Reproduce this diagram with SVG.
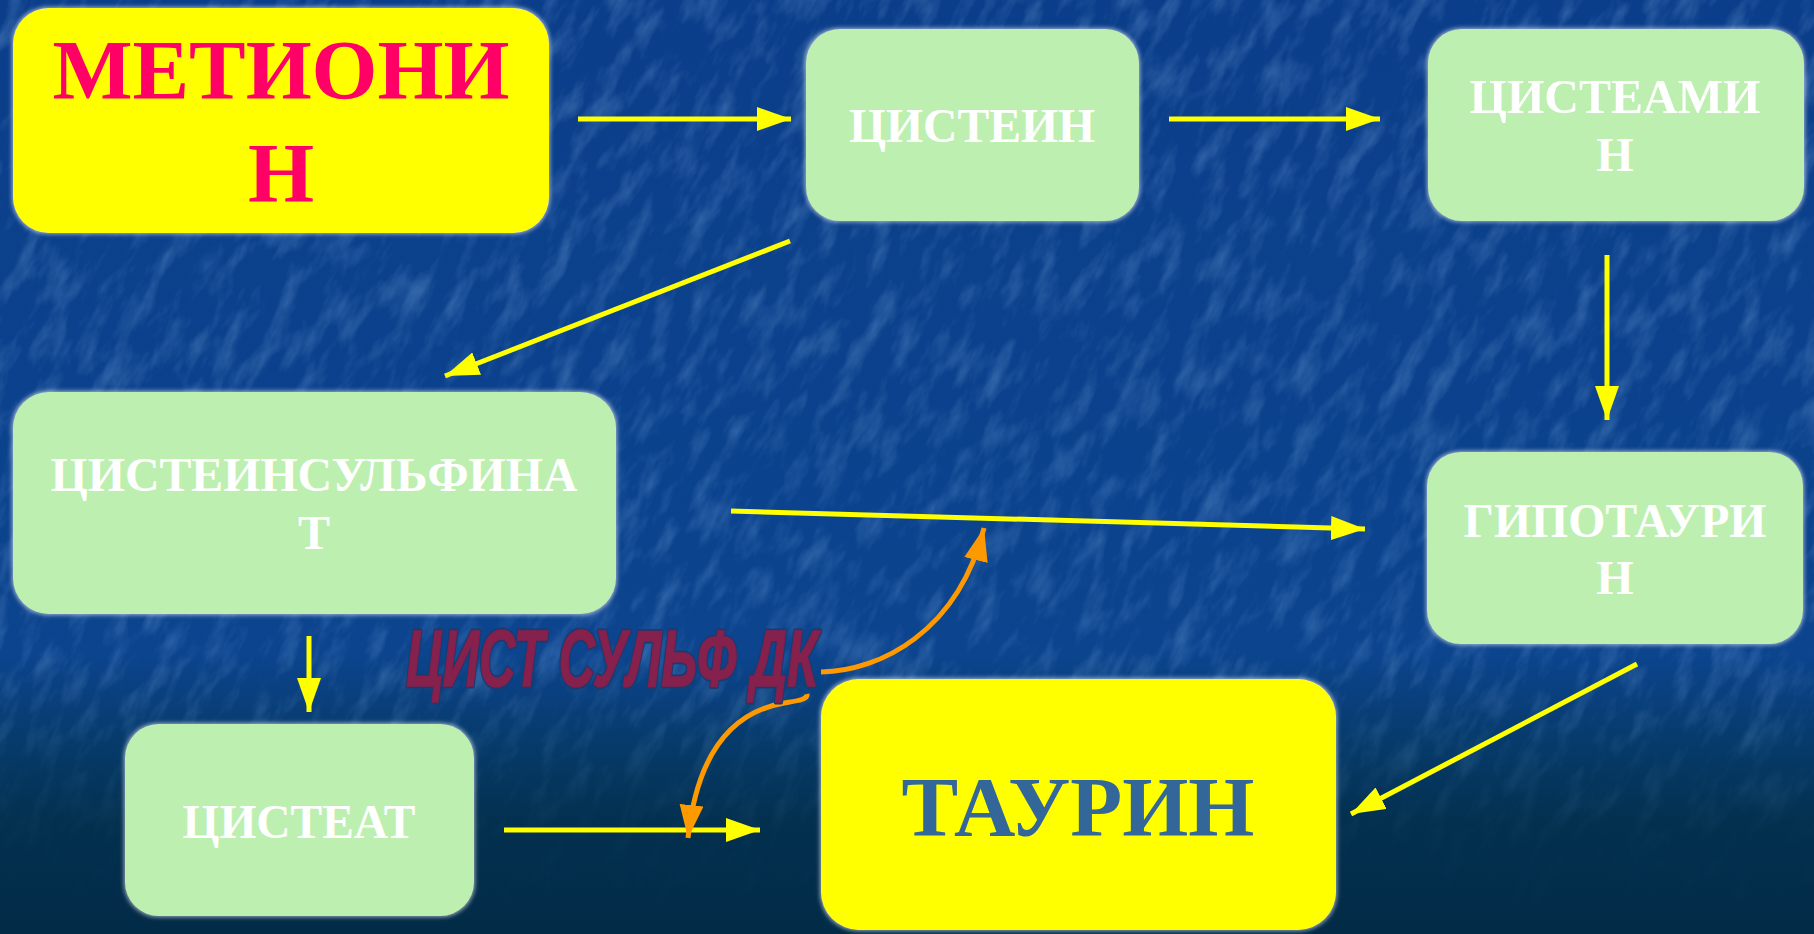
<svg xmlns="http://www.w3.org/2000/svg" width="1814" height="934" viewBox="0 0 1814 934">
  <defs>
    <linearGradient id="bg" x1="0" y1="0" x2="0" y2="1">
      <stop offset="0" stop-color="#0b3e8a"/>
      <stop offset="0.7" stop-color="#0c448e"/>
      <stop offset="0.8" stop-color="#063a69"/>
      <stop offset="0.88" stop-color="#03304f"/>
      <stop offset="1" stop-color="#022b47"/>
    </linearGradient>
    <linearGradient id="fade" x1="0" y1="0" x2="0" y2="1">
      <stop offset="0" stop-color="#fff" stop-opacity="1"/>
      <stop offset="0.72" stop-color="#fff" stop-opacity="0.9"/>
      <stop offset="0.9" stop-color="#fff" stop-opacity="0.1"/>
      <stop offset="1" stop-color="#fff" stop-opacity="0"/>
    </linearGradient>
    <mask id="texmask">
      <rect x="0" y="0" width="1814" height="934" fill="url(#fade)"/>
    </mask>
    <filter id="tex" x="0" y="0" width="100%" height="100%">
      <feTurbulence type="fractalNoise" baseFrequency="0.02 0.055" numOctaves="4" seed="5" result="n"/>
      <feColorMatrix in="n" type="matrix" values="0 0 0 0 0.3  0 0 0 0 0.55  0 0 0 0 0.9  0 0 0 2.2 -1.0"/>
    </filter>
    <filter id="glow" x="-5%" y="-5%" width="110%" height="110%">
      <feMorphology in="SourceAlpha" operator="dilate" radius="1" result="d"/>
      <feGaussianBlur in="d" stdDeviation="2" result="b"/>
      <feFlood flood-color="#ffffff" flood-opacity="0.6"/>
      <feComposite in2="b" operator="in" result="g"/>
      <feMerge>
        <feMergeNode in="g"/>
        <feMergeNode in="SourceGraphic"/>
      </feMerge>
    </filter>
    <marker id="ya" markerUnits="userSpaceOnUse" markerWidth="36" markerHeight="26" refX="34" refY="12" orient="auto">
      <path d="M0,0 L34,12 L0,24 Z" fill="#ffff00"/>
    </marker>
    <marker id="oa" markerUnits="userSpaceOnUse" markerWidth="36" markerHeight="26" refX="33" refY="12" orient="auto">
      <path d="M0,0 L33,12 L0,24 Z" fill="#ff9900"/>
    </marker>
    <style>
      .yb { fill: #ffff00; filter: url(#glow); }
      .gb { fill: #bdf0b0; filter: url(#glow); }
      .t { font-family: "Liberation Serif", "Times New Roman", serif; font-weight: bold; text-anchor: middle; }
      .w { fill: #ffffff; font-size: 48px; }
      .big { font-size: 85px; }
      .yl { stroke: #ffff00; stroke-width: 5; fill: none; marker-end: url(#ya); }
      .ol { stroke: #ff9900; stroke-width: 5; fill: none; marker-end: url(#oa); }
      .lab { font-family: "Liberation Sans Narrow", "Liberation Sans", Arial, sans-serif; font-weight: bold; font-style: italic; font-size: 80px; }
    </style>
  </defs>

  <rect x="0" y="0" width="1814" height="934" fill="url(#bg)"/>
  <g mask="url(#texmask)" opacity="0.28">
    <rect x="-600" y="-600" width="3000" height="2200" filter="url(#tex)" transform="rotate(-62 907 467)"/>
  </g>

  <g id="connectors">
    <line class="yl" x1="578" y1="119" x2="791" y2="119"/>
    <line class="yl" x1="1169" y1="119" x2="1380" y2="119"/>
    <line class="yl" x1="790" y1="241" x2="445" y2="376"/>
    <line class="yl" x1="1607" y1="255" x2="1607" y2="420"/>
    <line class="yl" x1="731" y1="511" x2="1365" y2="529"/>
    <line class="yl" x1="1637" y1="664" x2="1351" y2="814"/>
    <line class="yl" x1="309" y1="636" x2="309" y2="712"/>
    <line class="yl" x1="504" y1="830" x2="760" y2="830"/>
    <path class="ol" d="M821,672 C 880,671 958,632 984,528"/>
    <path class="ol" d="M807,694 C 808,700 796,701 784,703 C 738,711 698,745 688,838"/>
  </g>

  <g id="label-cist-sulf-dk">
    <text class="lab" x="406" y="686" textLength="412" lengthAdjust="spacingAndGlyphs" fill="#7e2049" stroke="#1d3a6e" stroke-width="5" stroke-linejoin="round">ЦИСТ СУЛЬФ ДК</text>
    <text class="lab" x="406" y="686" textLength="412" lengthAdjust="spacingAndGlyphs" fill="#86204c" stroke="#86204c" stroke-width="1.5">ЦИСТ СУЛЬФ ДК</text>
  </g>

  <g id="node-methionine">
    <rect class="yb" x="13" y="8" width="536" height="225" rx="36"/>
    <text class="t big" x="281" y="99" fill="#ff0066" textLength="457" lengthAdjust="spacingAndGlyphs">МЕТИОНИ</text>
    <text class="t big" x="281" y="202" fill="#ff0066">Н</text>
  </g>

  <g id="node-cysteine">
    <rect class="gb" x="806" y="29" width="333" height="192" rx="34"/>
    <text class="t w" x="972" y="142" textLength="246" lengthAdjust="spacingAndGlyphs">ЦИСТЕИН</text>
  </g>

  <g id="node-cysteamine">
    <rect class="gb" x="1428" y="29" width="376" height="192" rx="34"/>
    <text class="t w" x="1615" y="113" textLength="291" lengthAdjust="spacingAndGlyphs">ЦИСТЕАМИ</text>
    <text class="t w" x="1615" y="171">Н</text>
  </g>

  <g id="node-cysteinesulfinate">
    <rect class="gb" x="13" y="392" width="603" height="222" rx="36"/>
    <text class="t w" x="314" y="491" textLength="527" lengthAdjust="spacingAndGlyphs">ЦИСТЕИНСУЛЬФИНА</text>
    <text class="t w" x="314" y="549">Т</text>
  </g>

  <g id="node-hypotaurine">
    <rect class="gb" x="1427" y="452" width="376" height="192" rx="34"/>
    <text class="t w" x="1615" y="537" textLength="303" lengthAdjust="spacingAndGlyphs">ГИПОТАУРИ</text>
    <text class="t w" x="1615" y="594">Н</text>
  </g>

  <g id="node-cysteate">
    <rect class="gb" x="125" y="724" width="349" height="192" rx="34"/>
    <text class="t w" x="299" y="838" textLength="233" lengthAdjust="spacingAndGlyphs">ЦИСТЕАТ</text>
  </g>

  <g id="node-taurine">
    <rect class="yb" x="821" y="679" width="515" height="251" rx="38"/>
    <text class="t big" x="1078" y="836" fill="#336699" textLength="353" lengthAdjust="spacingAndGlyphs">ТАУРИН</text>
  </g>
</svg>
